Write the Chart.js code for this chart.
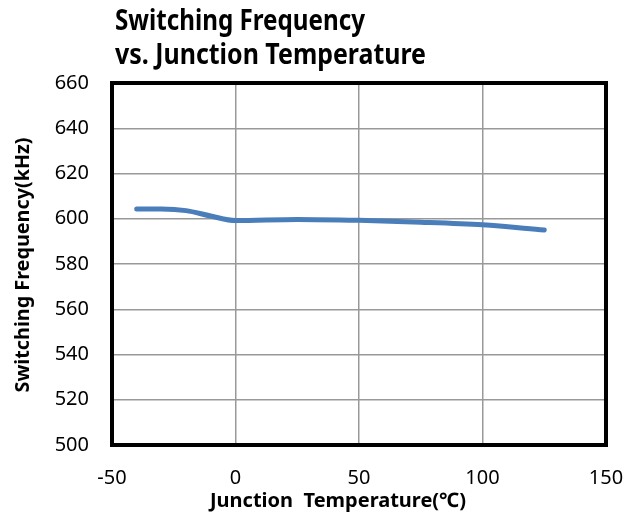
<!DOCTYPE html>
<html>
<head>
<meta charset="utf-8">
<script src="https://cdn.jsdelivr.net/npm/chart.js@4"></script>
<style>
  html, body { margin: 0; padding: 0; background: #fff; }
  #wrap { width: 627px; height: 514px; }
</style>
</head>
<body>
<div id="wrap"><canvas id="chart_freq" width="627" height="514"></canvas></div>
<script>
(function(){
  'use strict';

  // junction temperature (°C) and switching frequency (kHz)
  var temps = [-40, -30, -20, -10, 0, 25, 50, 75, 100, 125];
  var freqs = [604.3, 604.3, 603.6, 601.2, 599.2, 599.7, 599.3, 598.5, 597.3, 595.0];

  var xTicks = [-50, 0, 50, 100, 150];
  var yTicks = [500, 520, 540, 560, 580, 600, 620, 640, 660];

  var titleLines = ['Switching Frequency', 'vs. Junction Temperature'];
  var xTitle = 'Junction  Temperature(℃)';
  var yTitle = 'Switching Frequency(kHz)';

  var points = temps.map(function(t, i){ return { x: t, y: freqs[i] }; });

  // draw text squeezed to a given width (source font is narrower than ours)
  function fitText(ctx, txt, x, y, w, align){
    var m = ctx.measureText(txt).width;
    var k = Math.min(1, w / m);
    ctx.save();
    ctx.translate(x, y);
    ctx.scale(k, 1);
    ctx.textAlign = align;
    ctx.fillText(txt, 0, 0);
    ctx.restore();
  }

  // titles + heavy black frame round the plot
  var framePlugin = {
    id: 'frame',
    afterDraw: function(chart){
      var ctx = chart.ctx, a = chart.chartArea;
      ctx.save();
      ctx.strokeStyle = '#000';
      ctx.lineWidth = 4;
      ctx.strokeRect(a.left, a.top, a.right - a.left, a.bottom - a.top);
      ctx.fillStyle = '#000';
      ctx.textBaseline = 'alphabetic';

      ctx.font = 'bold 28px "Noto Sans"';
      fitText(ctx, titleLines[0], a.left + 3, 30, 250, 'left');
      fitText(ctx, titleLines[1], a.left + 3, 64, 311, 'left');

      ctx.font = 'bold 20px "Noto Sans"';
      fitText(ctx, xTitle, 338, 507, 257, 'center');

      ctx.save();
      ctx.translate(29, (a.top + a.bottom) / 2 + 1);
      ctx.rotate(-Math.PI / 2);
      ctx.font = 'bold 20px "Noto Sans"';
      fitText(ctx, yTitle, 0, 0, 255, 'center');
      ctx.restore();

      ctx.restore();
    }
  };

  var ctx = document.getElementById('chart_freq').getContext('2d');
  var myChart = new Chart(ctx, {
    type: 'scatter',
    data: {
      datasets: [{
        data: points,
        showLine: true,
        borderColor: '#4a7ebb',
        borderWidth: 5,
        borderCapStyle: 'round',
        pointRadius: 0,
        cubicInterpolationMode: 'monotone',
        fill: false
      }]
    },
    options: {
      responsive: false,
      animation: false,
      layout: { padding: { top: 83, right: 21, left: 0, bottom: 0 } },
      plugins: {
        legend: { display: false },
        title: { display: false },
        tooltip: { enabled: false }
      },
      scales: {
        x: {
          type: 'linear',
          min: -50, max: 150,
          afterBuildTicks: function(s){ s.ticks = xTicks.map(function(v){ return { value: v }; }); },
          afterFit: function(s){ s.height = 69; s.paddingLeft = 0; s.paddingRight = 0; },
          grid: { color: '#999', lineWidth: 1.5, drawTicks: false },
          border: { display: false },
          ticks: { color: '#000', padding: 21, font: { family: 'Noto Sans', size: 20 } }
        },
        y: {
          min: 500, max: 660,
          afterBuildTicks: function(s){ s.ticks = yTicks.map(function(v){ return { value: v }; }); },
          afterFit: function(s){ s.width = 112; },
          grid: { color: '#999', lineWidth: 1.5, drawTicks: false },
          border: { display: false },
          ticks: { color: '#000', padding: 23, font: { family: 'Noto Sans', size: 20 } }
        }
      }
    },
    plugins: [framePlugin]
  });
})();
</script>
</body>
</html>
